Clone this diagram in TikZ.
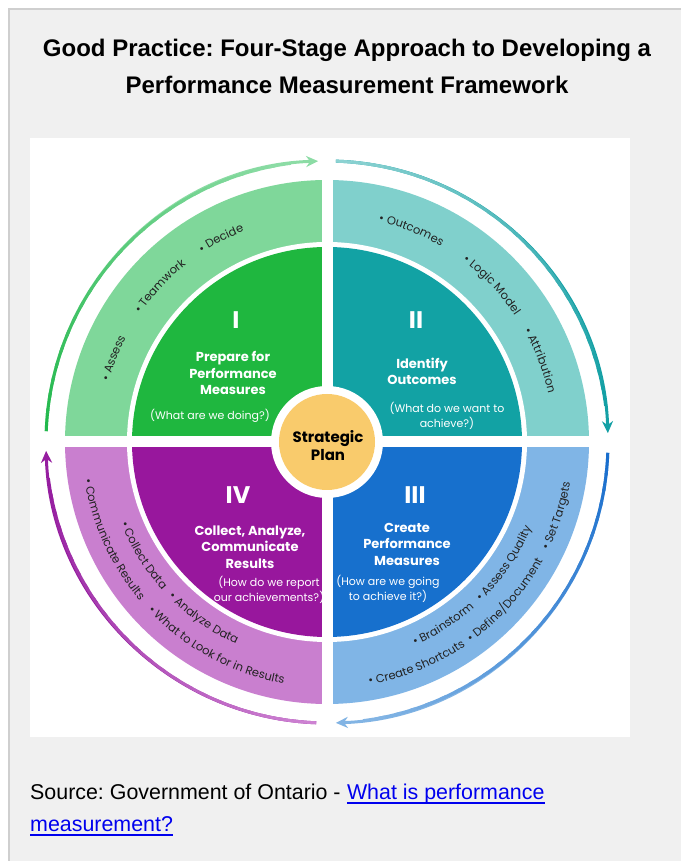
\documentclass[tikz,border=0pt]{standalone}
\usepackage{fontspec}
\setmainfont{Liberation Sans}
\newfontfamily\popfont{Poppins}
\usetikzlibrary{arrows.meta,decorations.text}
\frenchspacing

\definecolor{panelgray}{HTML}{F0F0F0}
\definecolor{panelline}{HTML}{CFCFCF}
\definecolor{linkblue}{HTML}{0000EE}
\definecolor{ringI}{HTML}{7FD79A}
\definecolor{quadI}{HTML}{1FB73F}
\definecolor{ringII}{HTML}{80D0CC}
\definecolor{quadII}{HTML}{12A2A4}
\definecolor{ringIII}{HTML}{80B5E6}
\definecolor{quadIII}{HTML}{1770CD}
\definecolor{ringIV}{HTML}{C97FCF}
\definecolor{quadIV}{HTML}{98179D}
\definecolor{planfill}{HTML}{F9CB6C}
\definecolor{arrIdark}{HTML}{22B84C}
\definecolor{arrIlight}{HTML}{8CDCA5}
\definecolor{arrIIlight}{HTML}{8CD2D2}
\definecolor{arrIIdark}{HTML}{14A0A5}
\definecolor{arrIIIdark}{HTML}{196ECD}
\definecolor{arrIIIlight}{HTML}{82B4E4}
\definecolor{arrIVlight}{HTML}{CD82D2}
\definecolor{arrIVdark}{HTML}{961EA0}
\definecolor{itemtext}{HTML}{222222}

\newcommand\ringfont{\popfont\fontsize{11.5}{13}\selectfont\color{itemtext}}

% item text bent along the outer ring: clockwise on the upper half,
% counter-clockwise on the lower half (letters then face the centre)
\newcommand\arcTop[3]{\path[decorate,decoration={text along path,text align=center,text={|\ringfont|#3}}]
  ({#1+40}:#2) arc[start angle={#1+40},end angle={#1-40},radius=#2];}
\newcommand\arcBot[3]{\path[decorate,decoration={text along path,text align=center,text={|\ringfont|#3}}]
  ({#1-40}:#2) arc[start angle={#1-40},end angle={#1+40},radius=#2];}

% cycle arrow round the wheel, shaded from one colour to the other
\newcommand\gradarrow[4]{%
  \draw[line width=3pt,draw=#4,-{Stealth[length=12pt,width=11pt]}]
    (#1:281) arc[start angle=#1,end angle=#2,radius=281];
  \foreach \k in {1,...,24}{%
    \pgfmathsetmacro\angA{#1+(#2-#1)*0.92*(\k-1)/24}%
    \pgfmathsetmacro\angB{#1+(#2-#1)*0.92*(\k+0.4)/24}%
    \pgfmathsetmacro\pct{100*(1-(\k-1)/23)}%
    \draw[line width=3pt,draw=#3!\pct!#4] (\angA:281) arc[start angle=\angA,end angle=\angB,radius=281];
  }%
}

\tikzset{
  titlefont/.style={font=\bfseries\fontsize{24}{28}\selectfont,anchor=base,inner sep=0pt},
  srcfont/.style={font=\fontsize{21.4}{25}\selectfont,anchor=base west,inner sep=0pt},
  qnum/.style={text=white,font=\popfont\bfseries\fontsize{24}{26}\selectfont,inner sep=0pt},
  qtitle/.style={text=white,font=\popfont\bfseries\fontsize{13}{16.5}\selectfont,align=center,inner sep=0pt},
  qsub/.style={text=white,font=\popfont\fontsize{11}{15}\selectfont,align=center,inner sep=0pt},
}

\begin{document}
\begin{tikzpicture}[x=1pt,y=1pt]
\useasboundingbox (0,0) rectangle (681,861);
\fill[white] (0,0) rectangle (681,861);
\fill[panelgray] (9,0) rectangle (681,852);
\draw[panelline,line width=1.5pt] (9,0) -- (9,852) -- (681,852);

% heading
\node[titlefont] (title1) at (347,804.5) {Good Practice: Four-Stage Approach to Developing a};
\node[titlefont] (title2) at (347,767.5) {Performance Measurement Framework};

% picture area
\fill[white] (30,124) rectangle (630,723);

\begin{scope}[shift={(327,419)}]
  % outer ring
  \fill[ringI]   (0,0) -- (180:262) arc[start angle=180,end angle=90,radius=262] -- cycle;
  \fill[ringII]  (0,0) -- (90:262) arc[start angle=90,end angle=0,radius=262] -- cycle;
  \fill[ringIII] (0,0) -- (0:262) arc[start angle=0,end angle=-90,radius=262] -- cycle;
  \fill[ringIV]  (0,0) -- (-90:262) arc[start angle=-90,end angle=-180,radius=262] -- cycle;
  \fill[white] (0,0) circle[radius=200];
  % inner quadrants
  \fill[quadI]   (0,0) -- (180:195) arc[start angle=180,end angle=90,radius=195] -- cycle;
  \fill[quadII]  (0,0) -- (90:195) arc[start angle=90,end angle=0,radius=195] -- cycle;
  \fill[quadIII] (0,0) -- (0:195) arc[start angle=0,end angle=-90,radius=195] -- cycle;
  \fill[quadIV]  (0,0) -- (-90:195) arc[start angle=-90,end angle=-180,radius=195] -- cycle;
  % separating cross and hub
  \fill[white] (-266,-5.5) rectangle (266,5.5);
  \fill[white] (-5.5,-266) rectangle (5.5,266);
  \fill[white] (0,0) circle[radius=56];
  \fill[planfill] (0,0) circle[radius=48];
  \node[font=\popfont\bfseries\fontsize{15}{18}\selectfont,align=center,inner sep=0pt] (plan) at (1,-4) {Strategic\\Plan};

  % cycle arrows
  \gradarrow{177.8}{91.8}{arrIdark}{arrIlight}
  \gradarrow{88.2}{1.8}{arrIIlight}{arrIIdark}
  \gradarrow{-2.2}{-88.2}{arrIIIdark}{arrIIIlight}
  \gradarrow{-92.2}{-178.2}{arrIVlight}{arrIVdark}

  % stage I
  \node[qnum] (numI) at (-91,122) {I};
  \node[qtitle] (titleI) at (-94,69) {Prepare for\\Performance\\Measures};
  \node[qsub] (subI) at (-117,26) {(What are we doing?)};
  % stage II
  \node[qnum] (numII) at (89,122) {II};
  \node[qtitle] (titleII) at (95,70.5) {Identify\\Outcomes};
  \node[qsub] (subII) at (120,26.5) {(What do we want to\\achieve?)};
  % stage III
  \node[qnum] (numIII) at (88,-53) {III};
  \node[qtitle] (titleIII) at (80,-102) {Create\\Performance\\Measures};
  \node[qsub] (subIII) at (61,-147) {(How are we going\\to achieve it?)};
  % stage IV
  \node[qnum] (numIV) at (-89,-53) {IV};
  \node[qtitle] (titleIV) at (-77,-105) {Collect, Analyze,\\Communicate\\Results};
  \begin{scope}
    \clip (-200,-200) rectangle (-5.5,0);
    \node[qsub] (subIV) at (-58,-148) {(How do we report\\our achievements?)};
  \end{scope}

  % ring items
  \arcTop{158.5}{226.5}{• Assess}
  \arcTop{137}{226.5}{• Teamwork}
  \arcTop{117.5}{226.5}{• Decide}
  \arcTop{68.3}{226.5}{• Outcomes}
  \arcTop{43.6}{226.5}{• Logic Model}
  \arcTop{21}{226.5}{• Attribution}
  \arcBot{-57.5}{221.5}{• Brainstorm}
  \arcBot{-34.4}{221.5}{• Assess Quality}
  \arcBot{-68}{246.5}{• Create Shortcuts}
  \arcBot{-41.6}{246.5}{• Define/Document}
  \arcBot{-17.8}{246.5}{• Set Targets}
  \arcBot{211.7}{221.5}{• Collect Data}
  \arcBot{235}{221.5}{• Analyze Data}
  \arcBot{204.5}{245.5}{• Communicate Results}
  \arcBot{241.5}{245.5}{• What to Look for in Results}
\end{scope}

% source line
\node[srcfont] (src) at (30,61) {Source: Government of Ontario -};
\node[srcfont,text=linkblue] (link1) at ([xshift=6pt]src.base east) {What is performance};
\node[srcfont,text=linkblue] (link2) at (30,29) {measurement?};
\draw[linkblue,line width=1.5pt] ([yshift=-3pt]link1.base west) -- ([yshift=-3pt]link1.base east);
\draw[linkblue,line width=1.5pt] ([yshift=-3pt]link2.base west) -- ([yshift=-3pt]link2.base east);
\end{tikzpicture}
\end{document}
